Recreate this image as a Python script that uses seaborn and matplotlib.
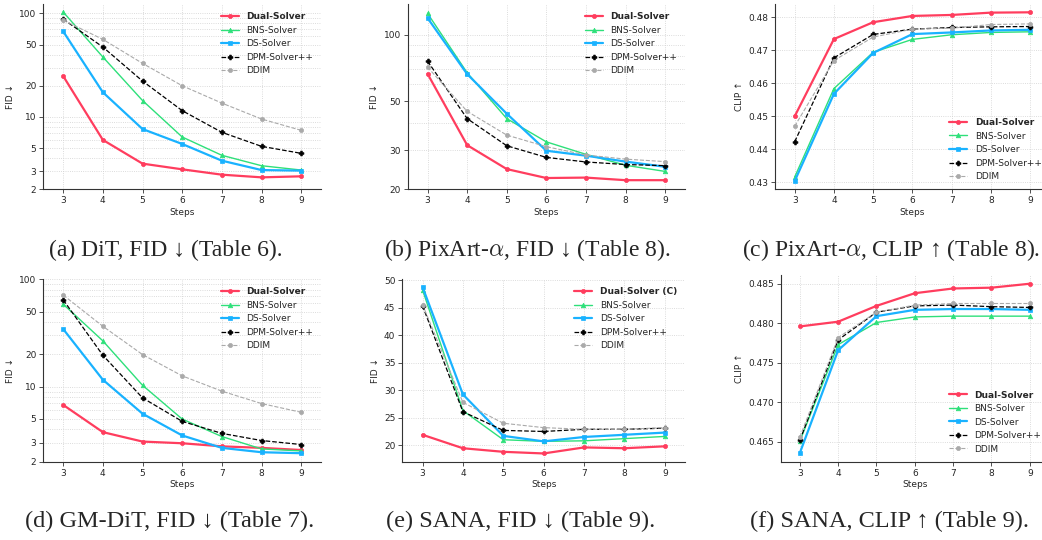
import numpy as np
import matplotlib
matplotlib.use("Agg")
import matplotlib.pyplot as plt
import seaborn as sns
from matplotlib.ticker import LogLocator, NullFormatter

sns.set_style("ticks")
plt.rcParams["mathtext.fontset"] = "cm"
plt.rcParams["font.family"] = ["DejaVu Sans"]

steps = [3, 4, 5, 6, 7, 8, 9]
solvers = ["Dual-Solver", "BNS-Solver", "DS-Solver", "DPM-Solver++", "DDIM"]

# (a) DiT, FID
dit_dual = [24.8, 6.0, 3.54, 3.12, 2.77, 2.61, 2.67]
dit_bns = [103, 37.9, 14.4, 6.4, 4.26, 3.38, 3.07]
dit_ds = [67, 17.3, 7.64, 5.48, 3.78, 3.07, 3.03]
dit_dpm = [88, 47.3, 22.2, 11.5, 7.1, 5.2, 4.45]
dit_ddim = [86, 56.1, 32.9, 20.0, 13.6, 9.55, 7.42]

# (b) PixArt-alpha, FID
pix_dual = [66.7, 31.7, 24.7, 22.5, 22.6, 22.0, 22.0]
pix_bns = [125.2, 67.4, 41.8, 32.8, 28.8, 25.7, 24.1]
pix_ds = [119.3, 66.5, 44.0, 29.9, 28.4, 26.7, 25.3]
pix_dpm = [76.1, 41.8, 31.5, 27.9, 26.6, 25.9, 25.6]
pix_ddim = [71.5, 45.1, 35.2, 31.2, 28.6, 27.4, 26.7]

# (c) PixArt-alpha, CLIP
pixc_dual = [0.4500, 0.4734, 0.4785, 0.4804, 0.4807, 0.4814, 0.4815]
pixc_bns = [0.4316, 0.4584, 0.4694, 0.4733, 0.4747, 0.4754, 0.4756]
pixc_ds = [0.4304, 0.4568, 0.4692, 0.4749, 0.4754, 0.4760, 0.4762]
pixc_dpm = [0.4423, 0.4677, 0.4748, 0.4764, 0.4769, 0.4771, 0.4772]
pixc_ddim = [0.4470, 0.4669, 0.4740, 0.4764, 0.4767, 0.4778, 0.4780]

# (d) GM-DiT, FID
gm_dual = [6.76, 3.77, 3.08, 2.97, 2.78, 2.69, 2.57]
gm_bns = [58.7, 26.7, 10.3, 4.99, 3.43, 2.63, 2.52]
gm_ds = [34.4, 11.6, 5.6, 3.51, 2.69, 2.45, 2.40]
gm_dpm = [64.4, 19.6, 7.86, 4.75, 3.67, 3.15, 2.89]
gm_ddim = [71.3, 36.5, 19.9, 12.6, 9.08, 6.96, 5.77]

# (e) SANA, FID
sana_dual = [21.9, 19.45, 18.8, 18.5, 19.6, 19.45, 19.8]
sana_bns = [48.3, 26.3, 21.0, 20.7, 20.8, 21.2, 21.6]
sana_ds = [48.8, 29.25, 21.7, 20.7, 21.5, 21.9, 22.3]
sana_dpm = [45.4, 26.1, 22.7, 22.5, 22.9, 22.9, 23.1]
sana_ddim = [45.6, 27.8, 24.0, 23.2, 22.9, 22.9, 23.2]

# (f) SANA, CLIP
sanac_dual = [0.4796, 0.4802, 0.4822, 0.4838, 0.4844, 0.4845, 0.4850]
sanac_bns = [0.4651, 0.4773, 0.4801, 0.4808, 0.4809, 0.4809, 0.4809]
sanac_ds = [0.4636, 0.4766, 0.4809, 0.4817, 0.4818, 0.4818, 0.4817]
sanac_dpm = [0.4652, 0.4779, 0.4814, 0.4822, 0.4823, 0.4821, 0.4820]
sanac_ddim = [0.4656, 0.4782, 0.4814, 0.4823, 0.4825, 0.4825, 0.4825]

styles = {
    "Dual-Solver": dict(color="#ff3d5e", marker="o", lw=1.6, ms=3.0, ls="-"),
    "BNS-Solver": dict(color="#2ee07a", marker="^", lw=1.0, ms=3.3, ls="-"),
    "DS-Solver": dict(color="#19b2ff", marker="s", lw=1.6, ms=3.3, ls="-"),
    "DPM-Solver++": dict(color="black", marker="P", lw=0.9, ms=3.5, ls="--"),
    "DDIM": dict(color="#aaaaaa", marker="o", lw=0.8, ms=3.0, ls="--"),
}

fig = plt.figure(figsize=(10.42, 5.40), dpi=100)

def panel(rect, series, ylabel, log_ticks=None, ylim=None, legend_loc="upper right",
          first_label="Dual-Solver"):
    ax = fig.add_axes(rect)
    for name, vals in zip(solvers, series):
        st = styles[name]
        label = first_label if name == "Dual-Solver" else name
        sns.lineplot(x=steps, y=vals, ax=ax, label=label, color=st["color"],
                     marker=st["marker"], linewidth=st["lw"], markersize=st["ms"],
                     linestyle=st["ls"], markeredgecolor=st["color"],
                     markeredgewidth=0.5)
    if log_ticks is not None:
        ax.set_yscale("log")
        ax.set_yticks(log_ticks)
        ax.set_yticklabels([str(t) for t in log_ticks])
        ax.yaxis.set_minor_locator(LogLocator(base=10, subs=np.arange(2, 10)))
        ax.yaxis.set_minor_formatter(NullFormatter())
        ax.tick_params(axis="y", which="minor", length=0)
        ax.grid(True, which="minor", axis="y", ls=":", lw=0.6, color="#d0d0d0")
    if ylim is not None:
        ax.set_ylim(*ylim)
    ax.set_xlim(2.5, 9.5)
    ax.set_xticks(steps)
    ax.grid(True, which="major", ls=":", lw=0.6, color="#d0d0d0")
    ax.set_xlabel("Steps", fontsize=6.5, labelpad=2)
    ax.set_ylabel(ylabel, fontsize=6.5, labelpad=3)
    ax.tick_params(axis="both", which="major", labelsize=6.5, length=3, width=0.6,
                   pad=2, color="#333333")
    sns.despine(ax=ax)
    for s in ["left", "bottom"]:
        ax.spines[s].set_linewidth(0.8)
        ax.spines[s].set_color("#333333")
    leg = ax.legend(loc=legend_loc, frameon=False, fontsize=6.5)
    leg.get_texts()[0].set_fontweight("bold")
    return ax

panel([0.0416, 0.6494, 0.2665, 0.3431],
      [dit_dual, dit_bns, dit_ds, dit_dpm, dit_ddim], "FID ↓",
      log_ticks=[2, 3, 5, 10, 20, 50, 100], ylim=(2, 123))
panel([0.3913, 0.6494, 0.2661, 0.3431],
      [pix_dual, pix_bns, pix_ds, pix_dpm, pix_ddim], "FID ↓",
      log_ticks=[20, 30, 50, 100], ylim=(20, 138))
panel([0.7438, 0.6494, 0.2636, 0.3431],
      [pixc_dual, pixc_bns, pixc_ds, pixc_dpm, pixc_ddim], "CLIP ↑",
      ylim=(0.4279, 0.4840), legend_loc="lower right")
panel([0.0416, 0.1450, 0.2665, 0.3378],
      [gm_dual, gm_bns, gm_ds, gm_dpm, gm_ddim], "FID ↓",
      log_ticks=[2, 3, 5, 10, 20, 50, 100], ylim=(2, 100))
panel([0.3861, 0.1450, 0.2713, 0.3378],
      [sana_dual, sana_bns, sana_ds, sana_dpm, sana_ddim], "FID ↓",
      ylim=(17.0, 50.2), first_label="Dual-Solver (C)")
panel([0.7492, 0.1450, 0.2575, 0.3457],
      [sanac_dual, sanac_bns, sanac_ds, sanac_dpm, sanac_ddim], "CLIP ↑",
      ylim=(0.4625, 0.4861), legend_loc="lower right")

captions_top = ["(a) DiT, FID ↓ (Table 6).",
                r"(b) PixArt-$\alpha$, FID ↓ (Table 8).",
                r"(c) PixArt-$\alpha$, CLIP ↑ (Table 8)."]
captions_bottom = ["(d) GM-DiT, FID ↓ (Table 7).",
                   "(e) SANA, FID ↓ (Table 9).",
                   "(f) SANA, CLIP ↑ (Table 9)."]
serif = ["Liberation Serif", "DejaVu Serif"]
for x, c in zip([166 / 1042, 527 / 1042, 891 / 1042], captions_top):
    fig.text(x, 1 - 250 / 540, c, ha="center", va="center", fontsize=17,
             family=serif)
for x, c in zip([170 / 1042, 521 / 1042, 890 / 1042], captions_bottom):
    fig.text(x, 1 - 521 / 540, c, ha="center", va="center", fontsize=17.5,
             family=serif)

fig.savefig("out.png", dpi=100)
